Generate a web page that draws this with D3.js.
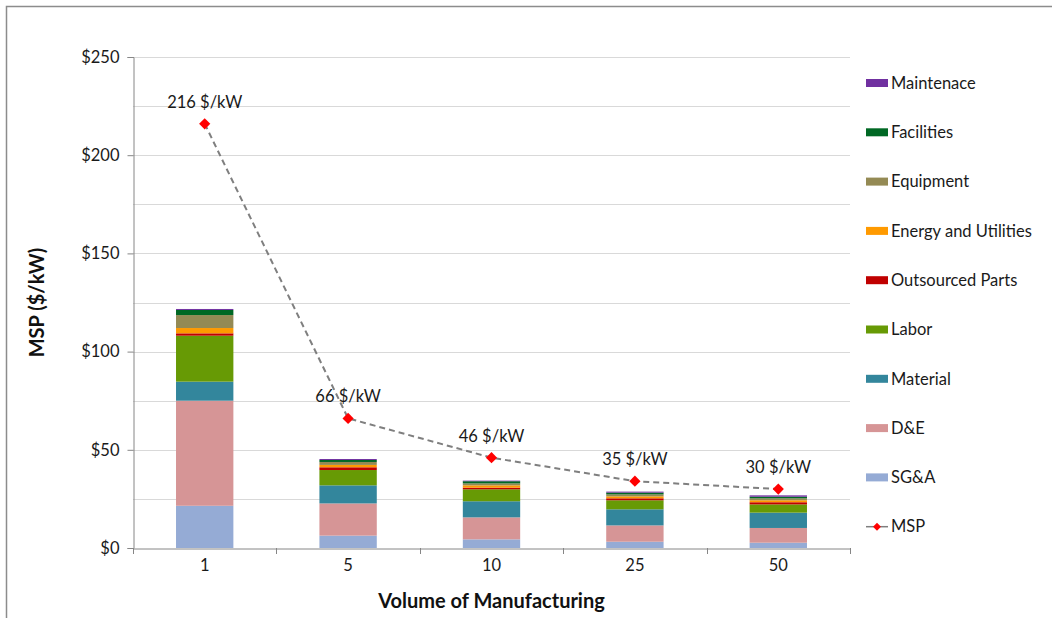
<!DOCTYPE html>
<html>
<head>
<meta charset="utf-8">
<script src="https://cdn.jsdelivr.net/npm/d3@7"></script>
<style>
  html, body { margin: 0; padding: 0; background: #fff; }
  svg { display: block; font-family: Lato, "Open Sans", sans-serif; }
</style>
</head>
<body>
<svg id="chart" width="1061" height="618"></svg>
<script>
// ---------- data ----------
const categories = ["1", "5", "10", "25", "50"];
const seriesNames = ["SG&A", "D&E", "Material", "Labor", "Outsourced Parts", "Energy and Utilities", "Equipment", "Facilities", "Maintenace"];
const sga        = [21.5, 6.3, 4.4, 3.2, 2.7];
const de         = [53.5, 16.4, 11.2, 8.3, 7.5];
const material   = [9.7, 9.2, 8.2, 8.2, 7.8];
const labor      = [23.4, 7.8, 6.1, 4.6, 4.2];
const outsourced = [1.2, 1.4, 0.8, 1.0, 1.1];
const energy     = [2.7, 1.2, 1.2, 1.0, 1.0];
const equipment  = [6.6, 1.5, 1.0, 1.0, 1.0];
const facilities = [2.6, 1.0, 1.1, 0.9, 0.8];
const maintenance= [0.5, 0.5, 0.3, 0.5, 0.7];
const msp        = [216, 66, 46, 34, 30];
const mspLabels  = ["216 $/kW", "66 $/kW", "46 $/kW", "35 $/kW", "30 $/kW"];
const yTicks     = [0, 50, 100, 150, 200, 250];
const yGrid      = [25, 50, 75, 100, 125, 150, 175, 200, 225, 250];

const seriesValues = [sga, de, material, labor, outsourced, energy, equipment, facilities, maintenance];
const colors = ["#95ABD5", "#D69596", "#33869C", "#679A05", "#C00000", "#FF9A00", "#948A54", "#006824", "#7030A0"];

// ---------- layout ----------
const svg = d3.select("#chart");
const pL = 133, pR = 850, pT = 57, pB = 548;
const txt = "#1a1a1a";

// frame (left and top edges)
svg.append("path")
  .attr("d", "M6.5,618 L6.5,6.5 L1052,6.5")
  .attr("fill", "none").attr("stroke", "#8c8c8c").attr("stroke-width", 1.5);

const x = d3.scaleBand().domain(categories).range([pL, pR]).paddingInner(0.6).paddingOuter(0.3);
const xc = d3.scaleBand().domain(categories).range([pL, pR]);
const y = d3.scaleLinear().domain([0, 250]).range([pB, pT]);

// gridlines
svg.append("g").selectAll("line").data(yGrid).join("line")
  .attr("x1", pL).attr("x2", pR)
  .attr("y1", d => Math.round(y(d)) + 0.5).attr("y2", d => Math.round(y(d)) + 0.5)
  .attr("stroke", "#d9d9d9").attr("stroke-width", 1);

// stacked bars
const table = categories.map((c, i) => {
  const row = { cat: c };
  seriesNames.forEach((s, k) => row[s] = seriesValues[k][i]);
  return row;
});
const stack = d3.stack().keys(seriesNames)(table);
svg.append("g").selectAll("g").data(stack).join("g")
  .attr("fill", (d, i) => colors[i])
  .selectAll("rect").data(d => d).join("rect")
  .attr("x", d => x(d.data.cat))
  .attr("width", x.bandwidth())
  .attr("y", d => y(d[1]))
  .attr("height", d => y(d[0]) - y(d[1]));

// y axis
const yAxis = d3.axisLeft(y).tickValues(yTicks).tickFormat(d => "$" + d).tickSize(6).tickPadding(8);
const gy = svg.append("g").attr("transform", `translate(${pL + 0.5},0)`).call(yAxis);
gy.select(".domain").attr("stroke", "#868686");
gy.selectAll(".tick line").attr("stroke", "#868686");
gy.selectAll(".tick text").attr("font-size", 16.5).attr("fill", txt).attr("font-family", "Lato, sans-serif");

// x axis
const xAxis = d3.axisBottom(xc).tickSize(0).tickPadding(11);
const gx = svg.append("g").attr("transform", `translate(0,${pB + 0.5})`).call(xAxis);
gx.select(".domain").attr("stroke", "#868686");
gx.selectAll(".tick text").attr("font-size", 16.5).attr("fill", txt).attr("font-family", "Lato, sans-serif");
// category boundary ticks
const bounds = categories.map(c => xc(c)).concat([pR]);
svg.append("g").selectAll("line").data(bounds).join("line")
  .attr("x1", d => Math.round(d) + 0.5).attr("x2", d => Math.round(d) + 0.5)
  .attr("y1", pB).attr("y2", pB + 6)
  .attr("stroke", "#868686");

// MSP line
const cx = c => xc(c) + xc.bandwidth() / 2;
const line = d3.line().x((d, i) => cx(categories[i])).y(d => y(d));
svg.append("path").datum(msp)
  .attr("d", line)
  .attr("fill", "none").attr("stroke", "#7f7f7f").attr("stroke-width", 2)
  .attr("stroke-dasharray", "6,4");
const diamond = d3.symbol().type(d3.symbolDiamond2).size(80);
svg.append("g").selectAll("path").data(msp).join("path")
  .attr("d", diamond)
  .attr("transform", (d, i) => `translate(${cx(categories[i])},${y(d)})`)
  .attr("fill", "#ff0000");
svg.append("g").selectAll("text").data(msp).join("text")
  .attr("x", (d, i) => cx(categories[i]))
  .attr("y", (d, i) => y(d) - 16)
  .attr("text-anchor", "middle")
  .attr("font-size", 16.5).attr("fill", txt)
  .text((d, i) => mspLabels[i]);

// axis titles
svg.append("text")
  .attr("transform", `translate(44,${(pT + pB) / 2}) rotate(-90)`)
  .attr("text-anchor", "middle")
  .attr("font-size", 20).attr("font-weight", "bold").attr("fill", "#111")
  .text("MSP ($/kW)");
svg.append("text")
  .attr("x", (pL + pR) / 2).attr("y", 608)
  .attr("text-anchor", "middle")
  .attr("font-size", 20).attr("font-weight", "bold").attr("fill", "#111")
  .text("Volume of Manufacturing");

// legend
const legendItems = seriesNames.map((s, i) => ({ name: s, color: colors[i] })).reverse();
legendItems.push({ name: "MSP", color: null });
const lg = svg.append("g").selectAll("g").data(legendItems).join("g")
  .attr("transform", (d, i) => `translate(866,${83 + i * 49.3})`);
lg.filter(d => d.color).append("rect")
  .attr("x", 0).attr("y", -4).attr("width", 22).attr("height", 8)
  .attr("fill", d => d.color);
const msl = lg.filter(d => !d.color);
msl.append("line").attr("x1", 0).attr("x2", 22).attr("y1", 0).attr("y2", 0)
  .attr("stroke", "#7f7f7f").attr("stroke-width", 1.5);
msl.append("path").attr("d", d3.symbol().type(d3.symbolDiamond2).size(40)).attr("transform", "translate(11,0)").attr("fill", "#ff0000");
lg.append("text")
  .attr("x", 25).attr("y", 0).attr("dy", "0.35em")
  .attr("font-size", 16.5).attr("fill", txt)
  .text(d => d.name);
</script>
</body>
</html>
